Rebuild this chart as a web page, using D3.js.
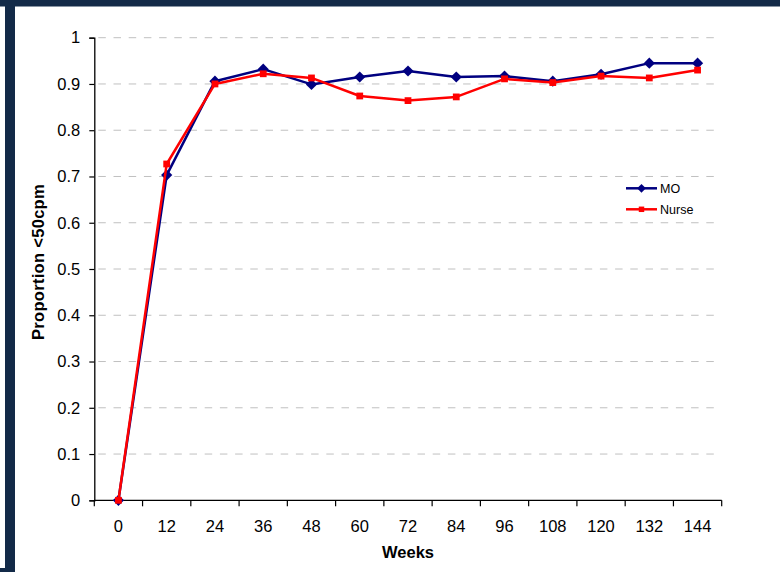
<!DOCTYPE html>
<html>
<head>
<meta charset="utf-8">
<script src="https://cdn.jsdelivr.net/npm/d3@7/dist/d3.min.js"></script>
<style>
  html, body { margin: 0; padding: 0; background: #ffffff; }
  svg { display: block; font-family: "Liberation Sans", Arial, Helvetica, sans-serif; }
</style>
</head>
<body>
<svg id="chart" width="780" height="572"></svg>
<script>
// Follow-up visits (weeks)
const weeks = ["0", "12", "24", "36", "48", "60", "72", "84", "96", "108", "120", "132", "144"];
// Proportion of patients below 50 copies/ml, by clinician type
const moValues    = [0, 0.703, 0.906, 0.932, 0.899, 0.915, 0.928, 0.915, 0.917, 0.906, 0.921, 0.945, 0.945];
const nurseValues = [0, 0.727, 0.900, 0.922, 0.913, 0.874, 0.864, 0.872, 0.911, 0.903, 0.917, 0.913, 0.930];
const yTicks = [0, 0.1, 0.2, 0.3, 0.4, 0.5, 0.6, 0.7, 0.8, 0.9, 1];
const seriesNames = ["MO", "Nurse"];

(function draw() {
  const svg = d3.select("#chart");
  const W = 780, H = 572;

  // Slide frame
  const frame = "#132a48";
  svg.append("rect").attr("x", 0).attr("y", 0).attr("width", W).attr("height", 6.5).attr("fill", frame);
  svg.append("rect").attr("x", 5).attr("y", 0).attr("width", 10).attr("height", H).attr("fill", frame);
  svg.append("rect").attr("x", 0).attr("y", 568).attr("width", 15).attr("height", 4).attr("fill", frame);

  const plotLeft = 94.3, plotRight = 721.7, plotTop = 37.7, plotBottom = 500.3;

  const x = d3.scaleBand().domain(weeks).range([plotLeft, plotRight]).padding(0);
  const y = d3.scaleLinear().domain([0, 1]).range([plotBottom, plotTop]);
  const cx = d => x(d) + x.bandwidth() / 2;

  // Dashed horizontal gridlines
  svg.append("g").selectAll("line")
    .data(yTicks.filter(t => t > 0))
    .join("line")
    .attr("x1", plotLeft + 1).attr("x2", 717)
    .attr("y1", d => y(d)).attr("y2", d => y(d))
    .attr("stroke", "#c0c0c0").attr("stroke-width", 1)
    .attr("stroke-dasharray", "7.5,7.7")
    .attr("stroke-dashoffset", -3);

  // Y axis
  const yAxis = svg.append("g")
    .attr("transform", `translate(${plotLeft},0)`)
    .call(d3.axisLeft(y).tickValues(yTicks).tickSize(5).tickPadding(9)
      .tickFormat(d => d3.format("~g")(d)));
  yAxis.select(".domain").attr("stroke", "#000").attr("stroke-width", 1.3);
  yAxis.selectAll(".tick line").attr("stroke", "#000").attr("stroke-width", 1.2);
  yAxis.selectAll(".tick text").attr("font-size", 16.5).attr("fill", "#000")
    .attr("font-family", "'Liberation Sans', Arial, sans-serif");

  // X axis: ticks sit on the category boundaries
  const xAxisG = svg.append("g").attr("transform", `translate(0,${plotBottom})`);
  xAxisG.append("line").attr("x1", plotLeft).attr("x2", plotRight).attr("y1", 0).attr("y2", 0)
    .attr("stroke", "#000").attr("stroke-width", 1.3);
  const boundaries = weeks.map(w => x(w)).concat([plotRight]);
  xAxisG.selectAll("line.tk").data(boundaries).join("line").attr("class", "tk")
    .attr("x1", d => d).attr("x2", d => d).attr("y1", 0).attr("y2", 6)
    .attr("stroke", "#000").attr("stroke-width", 1.2);
  xAxisG.selectAll("text").data(weeks).join("text")
    .attr("x", d => cx(d)).attr("y", 31.5)
    .attr("text-anchor", "middle").attr("font-size", 16.5).attr("fill", "#000")
    .text(d => d);

  // Axis titles
  svg.append("text").attr("x", 408).attr("y", 558)
    .attr("text-anchor", "middle").attr("font-size", 16.5).attr("font-weight", "bold")
    .text("Weeks");
  svg.append("text")
    .attr("transform", "translate(44,262) rotate(-90)")
    .attr("text-anchor", "middle").attr("font-size", 16.5).attr("font-weight", "bold")
    .attr("letter-spacing", 0.3)
    .text("Proportion <50cpm");

  // Series
  const diamond = d3.symbol().type(d3.symbolDiamond2).size(80);
  const square = d3.symbol().type(d3.symbolSquare).size(46);
  const series = [
    { name: seriesNames[0], values: moValues, color: "#000080", sym: diamond },
    { name: seriesNames[1], values: nurseValues, color: "#ff0000", sym: square }
  ];
  const line = d3.line().x((d, i) => cx(weeks[i])).y(d => y(d));

  series.forEach(s => {
    const g = svg.append("g");
    g.append("path").datum(s.values).attr("d", line)
      .attr("fill", "none").attr("stroke", s.color).attr("stroke-width", 2.5)
      .attr("stroke-linejoin", "round");
    g.selectAll("path.pt").data(s.values).join("path").attr("class", "pt")
      .attr("transform", (d, i) => `translate(${cx(weeks[i])},${y(d)})`)
      .attr("d", s.sym()).attr("fill", s.color);
  });

  // Legend
  const legend = svg.append("g");
  series.forEach((s, i) => {
    const ly = 188.3 + i * 21;
    legend.append("line").attr("x1", 626).attr("x2", 657).attr("y1", ly).attr("y2", ly)
      .attr("stroke", s.color).attr("stroke-width", 2.5);
    legend.append("path").attr("transform", `translate(641.5,${ly})`)
      .attr("d", (i === 0 ? d3.symbol().type(d3.symbolDiamond2).size(48) : d3.symbol().type(d3.symbolSquare).size(30))())
      .attr("fill", s.color);
    legend.append("text").attr("x", 660).attr("y", ly).attr("dy", "0.36em")
      .attr("font-size", 12.5).attr("fill", "#000").text(s.name);
  });
})();
</script>
</body>
</html>
